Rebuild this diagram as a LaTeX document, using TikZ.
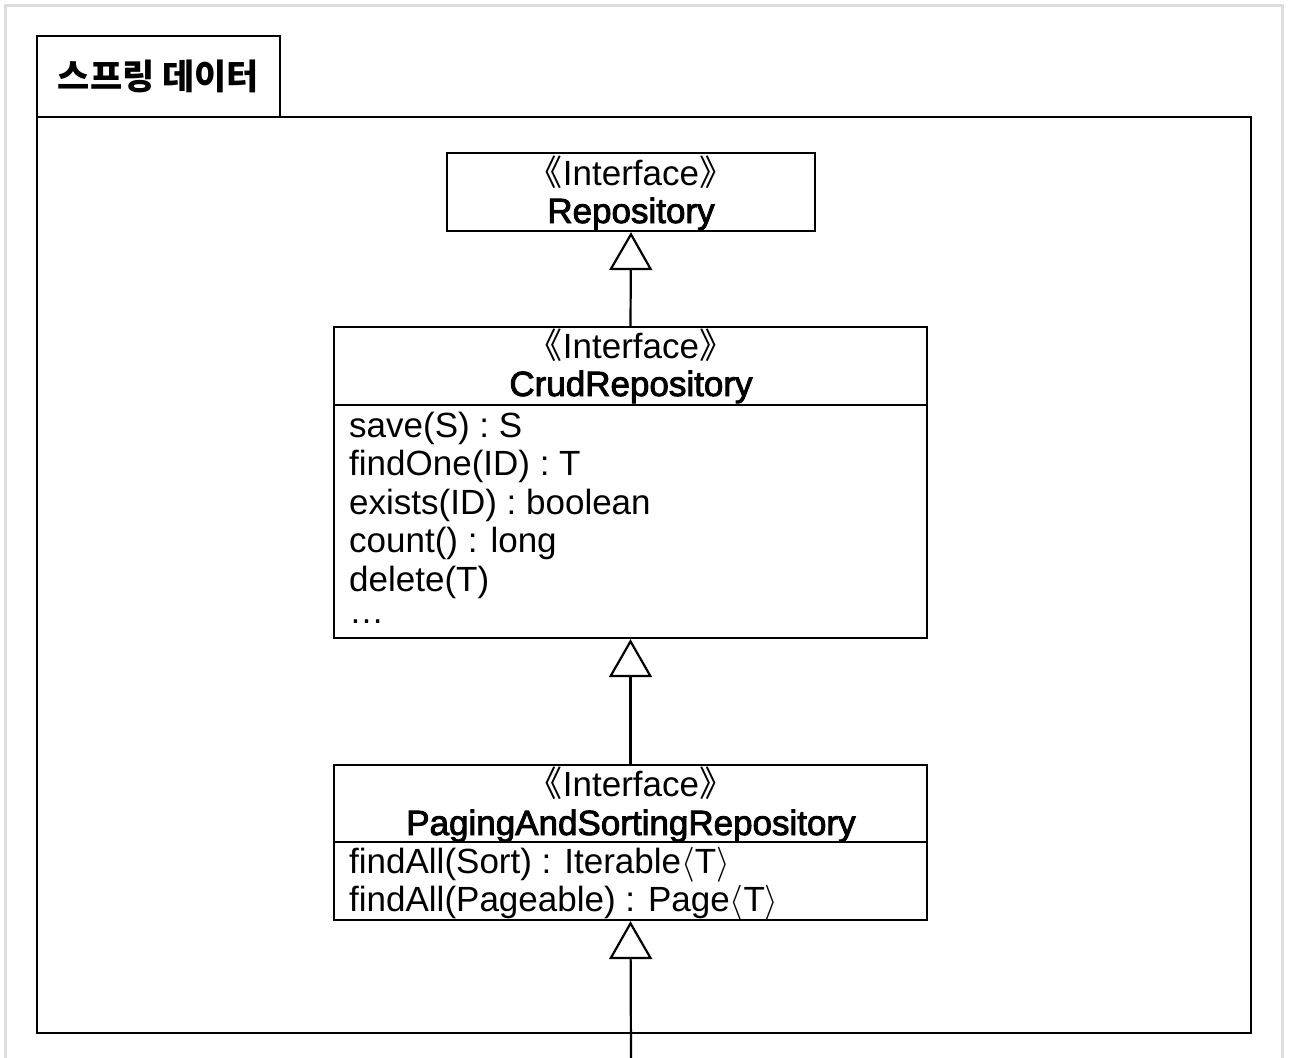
\documentclass[tikz,border=0pt]{standalone}
\usepackage{fix-cm}
\usepackage{fontspec}
\setmainfont{Liberation Sans}
\newfontfamily\krfont{Noto Sans CJK KR}
\newfontfamily\namefont{Liberation Sans}[FakeBold=2.5]
\usetikzlibrary{arrows.meta}
\definecolor{edgegray}{HTML}{DDDDDD}
\newcommand{\stereotxt}{{\krfont 《}Interface{\krfont 》}}
\newcommand{\ang}[1]{\smash{$\langle$}#1\smash{$\rangle$}}
\begin{document}
\begin{tikzpicture}[x=1pt,y=-1pt,
  box/.style={draw=black, line width=2.2pt, rectangle, inner sep=0pt},
  txt/.style={inner sep=0pt, font=\fontsize{35}{38.6}\selectfont},
  stereo/.style={txt, anchor=base},
  cname/.style={inner sep=0pt, anchor=base, font=\fontsize{35}{38.6}\selectfont\namefont},
  meth/.style={txt, anchor=base west},
  inherit/.style={draw=black, line width=2.2pt, -{Triangle[open, length=38pt, width=43pt]}},
]
\useasboundingbox (0,0) rectangle (1294,1058);
% outer light border
\draw[edgegray, line width=3pt] (5,1060) -- (5,5) -- (1282,5) -- (1282,1060);

% package frame
\node[box, minimum width=1214pt, minimum height=916pt] (frame) at (644,575) {};
\node[box, minimum width=243pt, minimum height=81pt, font=\fontsize{35}{38}\selectfont\krfont\bfseries] (tab) at (158.5,76.5) {스프링 데이터};

% Repository
\node[box, minimum width=368pt, minimum height=78pt] (repo) at (631,192) {};
\node[stereo] (repost) at (631,185) {\stereotxt};
\node[cname] (reponame) at (631,223) {Repository};

% CrudRepository
\node[box, minimum width=593pt, minimum height=311pt] (crud) at (630.5,482.5) {};
\draw[line width=2.2pt] (334,405) -- (927,405);
\node[stereo] (crudst) at (631,358) {\stereotxt};
\node[cname] (crudname) at (631,396) {CrudRepository};
\node[meth] (m1) at (349,437) {save(S) : S};
\node[meth] (m2) at (349,475.6) {findOne(ID) : T};
\node[meth] (m3) at (349,514.2) {exists(ID) : boolean};
\node[meth] (m4) at (349,552.8) {count() : long};
\node[meth] (m5) at (349,591.4) {delete(T)};
\node[meth] (m6) at (349,623) {…};

% PagingAndSortingRepository
\node[box, minimum width=593pt, minimum height=155pt] (paging) at (630.5,842.5) {};
\draw[line width=2.2pt] (334,842) -- (927,842);
\node[stereo] (pagst) at (631,796) {\stereotxt};
\node[cname] (pagname) at (631,835) {PagingAndSortingRepository};
\node[meth] (p1) at (349,873.5) {findAll(Sort) : Iterable\ang{T}};
\node[meth] (p2) at (349,911.7) {findAll(Pageable) : Page\ang{T}};

% inheritance
\draw[inherit] (crud.north) -- (repo.south);
\draw[inherit] (paging.north) -- (crud.south);
\coordinate (sub) at (631,1058);
\draw[inherit] (sub) -- (paging.south);
\end{tikzpicture}
\end{document}
